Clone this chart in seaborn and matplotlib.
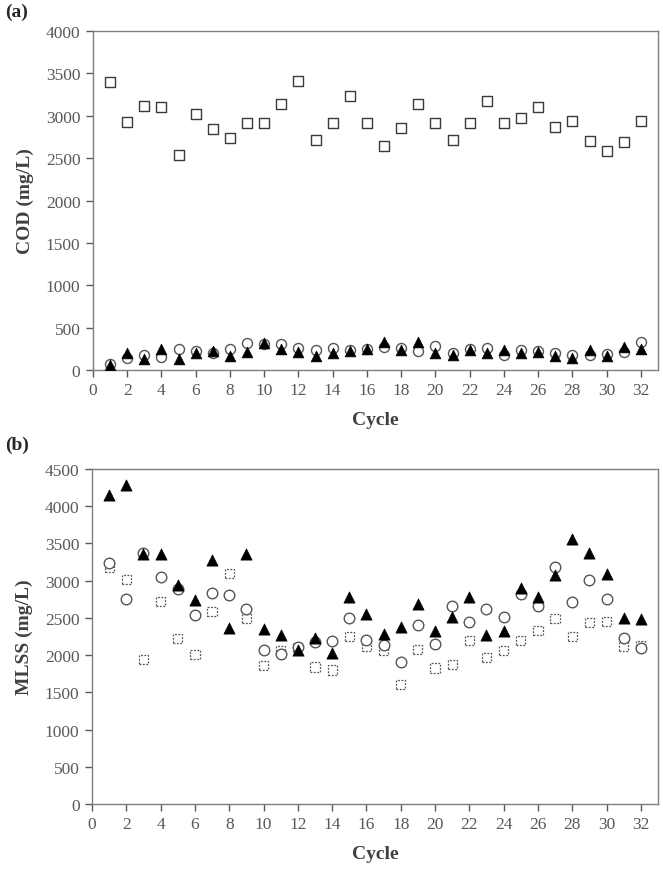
import numpy as np
import pandas as pd
import seaborn as sns
import matplotlib.pyplot as plt

# cycles 1..32
cycle = list(range(1, 33))

# (a) COD (mg/L)
cod_square = [3400, 2925, 3114, 3106, 2531, 3024, 2847, 2741, 2914, 2914,
              3133, 3408, 2714, 2914, 3235, 2918, 2643, 2851, 3133, 2918,
              2710, 2910, 3176, 2910, 2976, 3106, 2863, 2933, 2698, 2584,
              2690, 2941]
cod_circle = [75, 146, 181, 158, 248, 225, 195, 248, 323, 310,
              303, 264, 236, 264, 232, 252, 272, 260, 225, 284,
              197, 252, 264, 173, 236, 229, 197, 173, 181, 189,
              213, 327]
cod_triangle = [55, 197, 126, 244, 134, 205, 228, 165, 213, 320,
                244, 209, 165, 197, 221, 244, 335, 236, 331, 205,
                181, 236, 197, 236, 197, 217, 162, 142, 240, 165,
                272, 252]

# (b) MLSS (mg/L)
mlss_square = [3185, 3020, 1942, 2720, 2228, 2013, 2590, 3100, 2496, 1861,
               2067, 2103, 1839, 1799, 2246, 2121, 2067, 1602, 2076, 1826,
               1870, 2192, 1973, 2067, 2192, 2326, 2487, 2250, 2443, 2447,
               2112, 2134]
mlss_circle = [3239, 2751, 3373, 3046, 2894, 2537, 2832, 2805, 2626, 2063,
               2013, 2112, 2179, 2188, 2492, 2201, 2130, 1911, 2402, 2152,
               2666, 2447, 2622, 2514, 2827, 2666, 3181, 2707, 3006, 2760,
               2233, 2098]
mlss_triangle = [4147, 4281, 3364, 3360, 2944, 2747, 3279, 2358, 3360, 2353,
                 2264, 2063, 2224, 2022, 2778, 2555, 2282, 2380, 2684, 2326,
                 2510, 2787, 2268, 2326, 2908, 2774, 3073, 3565, 3368, 3096,
                 2492, 2483]

sns.set_style('white')
plt.rcParams['font.family'] = ['Liberation Serif', 'DejaVu Serif']

W, H = 663, 870
fig = plt.figure(figsize=(W / 100, H / 100), dpi=100)


def px_axes(left, top, right, bottom):
    return fig.add_axes([left / W, 1 - bottom / H, (right - left) / W, (bottom - top) / H])


ax1 = px_axes(93, 32, 658, 371)
ax2 = px_axes(92, 470, 658, 805)

df_a = pd.DataFrame({'Cycle': cycle, 'sq': cod_square, 'ci': cod_circle, 'tr': cod_triangle})
df_b = pd.DataFrame({'Cycle': cycle, 'sq': mlss_square, 'ci': mlss_circle, 'tr': mlss_triangle})

# (a)
sns.scatterplot(data=df_a, x='Cycle', y='sq', marker='s', s=44, facecolor='white',
                edgecolor='#3a3a3a', linewidth=1.0, ax=ax1, zorder=3)
sns.scatterplot(data=df_a, x='Cycle', y='ci', marker='o', s=52, facecolor='white',
                edgecolor='#555555', linewidth=1.0, ax=ax1, zorder=4)
sns.scatterplot(data=df_a, x='Cycle', y='tr', marker='^', s=60, color='black',
                edgecolor='black', linewidth=0.5, ax=ax1, zorder=5)

# (b)
sns.scatterplot(data=df_b, x='Cycle', y='sq', marker='s', s=44, facecolor='white',
                edgecolor='#555555', linewidth=0.9, linestyle=(0, (1.5, 1.2)), ax=ax2, zorder=3)
sns.scatterplot(data=df_b, x='Cycle', y='ci', marker='o', s=58, facecolor='white',
                edgecolor='#555555', linewidth=1.0, ax=ax2, zorder=4)
sns.scatterplot(data=df_b, x='Cycle', y='tr', marker='^', s=65, color='black',
                edgecolor='black', linewidth=0.5, ax=ax2, zorder=5)

for ax, ylab, ymax in [(ax1, 'COD (mg/L)', 4000), (ax2, 'MLSS (mg/L)', 4500)]:
    ax.set_xlim(0, 33)
    ax.set_ylim(0, ymax)
    ax.set_xticks(range(0, 33, 2))
    ax.set_yticks(range(0, ymax + 1, 500))
    ax.tick_params(axis='both', direction='out', length=5, width=1, color='#595959',
                   labelsize=12.5, labelcolor='#595959', pad=4,
                   bottom=True, left=True)
    for sp in ax.spines.values():
        sp.set_color('#7f7f7f')
        sp.set_linewidth(1.0)
    ax.set_xlabel('Cycle', fontsize=14, fontweight='bold', color='#404040', labelpad=9)
    ax.set_ylabel(ylab, fontsize=14, fontweight='bold', color='#404040')
    ax.yaxis.set_label_coords(-0.105, 0.5)

fig.text(5 / W, 1 - 12 / H, '(a)', fontsize=14, fontweight='bold', va='center', ha='left')
fig.text(5 / W, 1 - 445 / H, '(b)', fontsize=14, fontweight='bold', va='center', ha='left')

fig.savefig('out.png', dpi=100)
